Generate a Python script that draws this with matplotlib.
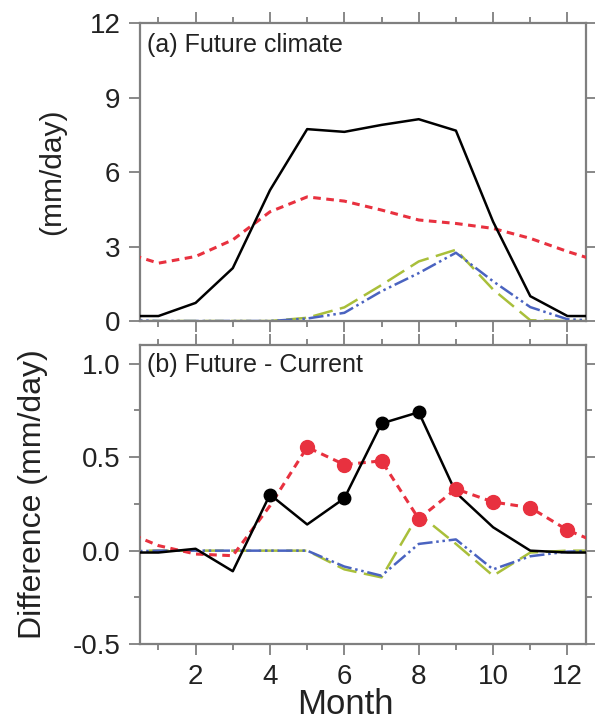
import numpy as np
import matplotlib
matplotlib.use("Agg")
import matplotlib.pyplot as plt
from matplotlib.ticker import MultipleLocator

plt.rcParams['font.family'] = ['Liberation Sans', 'DejaVu Sans']

##################################################
##### Data (months 0 and 13 wrap the year) #######
##################################################
months = np.arange(0, 14)

# (a) future climate, mm/day
fut_black = [0.20, 0.20, 0.73, 2.13, 5.27, 7.73, 7.62, 7.90, 8.13, 7.67, 4.00, 1.00, 0.20, 0.20]
fut_red   = [2.80, 2.33, 2.60, 3.27, 4.40, 5.00, 4.83, 4.47, 4.07, 3.93, 3.73, 3.33, 2.80, 2.33]
fut_green = [0.00, 0.00, 0.00, 0.00, 0.00, 0.13, 0.55, 1.45, 2.40, 2.87, 1.27, 0.03, 0.00, 0.00]
fut_blue  = [0.05, 0.00, 0.00, 0.00, 0.00, 0.10, 0.33, 1.20, 1.93, 2.75, 1.60, 0.56, 0.07, 0.00]

# (b) future - current, mm/day
dif_black = [-0.01, -0.01, 0.01, -0.11, 0.30, 0.14, 0.28, 0.68, 0.74, 0.31, 0.125, 0.00, -0.01, -0.01]
dif_red   = [0.11, 0.027, -0.018, -0.027, 0.24, 0.553, 0.46, 0.48, 0.17, 0.33, 0.26, 0.23, 0.11, 0.027]
dif_green = [0.00, 0.00, 0.00, 0.00, 0.00, 0.00, -0.10, -0.143, 0.196, 0.036, -0.134, -0.01, 0.00, 0.00]
dif_blue  = [-0.005, 0.00, 0.00, 0.00, 0.00, 0.00, -0.085, -0.134, 0.036, 0.06, -0.10, -0.03, -0.005, 0.00]

# significant months (dots)
sig_black = [4, 6, 7, 8]
sig_red   = [5, 6, 7, 8, 9, 10, 11, 12]

c_black = "black"
c_red   = "#e8313f"
c_green = "#a9bf3a"
c_blue  = "#4a63c0"
spine_c = "#7f7f7f"
txt_c   = "#222222"

######################################################
############ Figure ##################################
######################################################
fig = plt.figure(figsize=(5.95, 7.23), dpi=100)
ax1 = fig.add_axes([0.235, 0.556, 0.750, 0.412])
ax2 = fig.add_axes([0.235, 0.109, 0.750, 0.414])

def draw(ax, k, r, g, b):
    ax.plot(months, r, color=c_red, lw=2.2, dashes=(2.5, 1.8), zorder=3)
    ax.plot(months, g, color=c_green, lw=1.8, dashes=(8, 3), zorder=2)
    ax.plot(months, b, color=c_blue, lw=1.8, dashes=(6, 1.5, 1, 1.5, 1, 1.5), zorder=2)
    ax.plot(months, k, color=c_black, lw=1.8, zorder=4)

draw(ax1, fut_black, fut_red, fut_green, fut_blue)
draw(ax2, dif_black, dif_red, dif_green, dif_blue)

ax2.plot(sig_black, [dif_black[m] for m in sig_black], 'o', color=c_black, ms=9, zorder=5)
ax2.plot(sig_red, [dif_red[m] for m in sig_red], 'o', color=c_red, ms=10, zorder=5)

for ax in (ax1, ax2):
    ax.set_xlim(0.5, 12.5)
    ax.xaxis.set_major_locator(MultipleLocator(2))
    ax.xaxis.set_minor_locator(MultipleLocator(1))
    ax.tick_params(which='both', direction='out', top=True, right=True,
                   color=spine_c, width=1.3, labelsize=20, labelcolor=txt_c, pad=6)
    ax.tick_params(which='major', length=8)
    ax.tick_params(which='minor', length=4.5)
    for s in ax.spines.values():
        s.set_color(spine_c)
        s.set_linewidth(1.6)

ax1.set_ylim(0, 12)
ax1.yaxis.set_major_locator(MultipleLocator(3))
ax1.tick_params(labelbottom=False)
ax1.set_ylabel("(mm/day)", fontsize=21.5, color=txt_c)
ax1.yaxis.set_label_coords(-0.165, 0.5)
ax1.text(0.016, 0.966, "(a) Future climate", transform=ax1.transAxes,
         fontsize=18, va='top', ha='left', color=txt_c)

ax2.set_ylim(-0.5, 1.10)
ax2.yaxis.set_major_locator(MultipleLocator(0.5))
ax2.yaxis.set_minor_locator(MultipleLocator(0.25))
ax2.yaxis.set_major_formatter(lambda v, p: f"{v:.1f}")
ax2.set_ylabel("Difference (mm/day)", fontsize=23, color=txt_c)
ax2.yaxis.set_label_coords(-0.205, 0.5)
ax2.set_xlabel("Month", fontsize=25, color=txt_c, va='baseline')
ax2.xaxis.set_label_coords(0.46, -0.232)
ax2.text(0.016, 0.973, "(b) Future - Current", transform=ax2.transAxes,
         fontsize=18, va='top', ha='left', color=txt_c)

fig.savefig("out.png", dpi=100)
